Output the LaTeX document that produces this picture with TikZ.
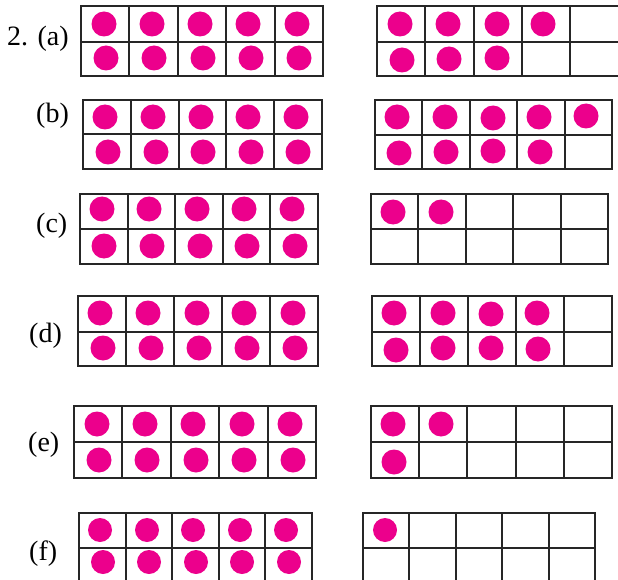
\documentclass[tikz,border=0pt]{standalone}
\usepackage{fontspec}
\setmainfont{Liberation Serif}
\definecolor{dotmag}{RGB}{236,0,140}
\definecolor{gridc}{RGB}{38,38,38}
\tikzset{
  gridline/.style={draw=gridc, line width=2pt},
  dotfill/.style={fill=dotmag},
  lbl/.style={inner sep=0pt, font=\fontsize{28}{30}\selectfont, anchor=base west},
}
\newcommand\tframe[5]{%
  \pgfmathsetmacro\cw{(#2-#1)/5}%
  \draw[gridline] (#1,#3) rectangle (#2,#5)
    (#1,#4) -- (#2,#4)
    ({#1+\cw},#3) -- ({#1+\cw},#5)
    ({#1+2*\cw},#3) -- ({#1+2*\cw},#5)
    ({#1+3*\cw},#3) -- ({#1+3*\cw},#5)
    ({#1+4*\cw},#3) -- ({#1+4*\cw},#5);
}
\begin{document}
\begin{tikzpicture}[x=1pt,y=-1pt]
\useasboundingbox[fill=white] (0,0) rectangle (618,580);
\begin{scope}
\clip (0,0) rectangle (618,580);
% frames
\tframe{81}{323}{6}{42}{76}
\tframe{377}{618.5}{6}{42}{76}
\tframe{83}{322}{100}{134.5}{169}
\tframe{375}{612}{100}{135}{169}
\tframe{80}{318}{194}{229}{263.5}
\tframe{371}{608}{194}{229}{264}
\tframe{78}{318}{296}{332}{366}
\tframe{372}{612}{296}{332}{366}
\tframe{74}{316}{406}{442}{478}
\tframe{371}{612}{406}{442}{478}
\tframe{79}{312}{513}{547.5}{582}
\tframe{363}{595}{513}{547.5}{582}
% dots
\foreach \x/\y in {
  104/24,152/24,200/24,248/24,297/24,
  106/58,154/58,203/58,251/58,299/58,
  400/24,448/24,497/24,543/24,
  402/60,449/59,497/58,
  105/117,153/117,201/117,248/117,296/117,
  108/152,156/152,203/152,251/152,298/152,
  397/117,445/117,493/118,539/117,586/116,
  399/153,446/152,493/151,540/152,
  102/209,149/209,197/209,244/209,292/209,
  104/246,152/246,200/246,247/246,295/246,
  393/212,441/212,
  100/313,148/313,197/313,244/313,293/313,
  103/348,151/348,199/348,247/348,295/348,
  394/313,443/313,491/314,537/313,
  396/350,443/348,491/348,538/349,
  97/424,145/424,193/424,242/424,290/424,
  99/460,147/460,196/460,244/460,293/460,
  393/424,441/424,
  394/462}
  {\fill[dotfill] (\x,\y) circle[radius=12.5];}
\foreach \x/\y in {
  100/530,147/530,193/530,240/530,286/530,
  103/562,149/562,196/562,242/562,289/562,
  385/530}
  {\fill[dotfill] (\x,\y) circle[radius=12];}
\end{scope}
% labels
\node[lbl] (la) at (7,45.5) {2. (a)};
\node[lbl] (lb) at (36,123) {(b)};
\node[lbl] (lc) at (36,232) {(c)};
\node[lbl] (ld) at (29,342) {(d)};
\node[lbl] (le) at (28,451) {(e)};
\node[lbl] (lf) at (29,560) {(f)};
\end{tikzpicture}
\end{document}
